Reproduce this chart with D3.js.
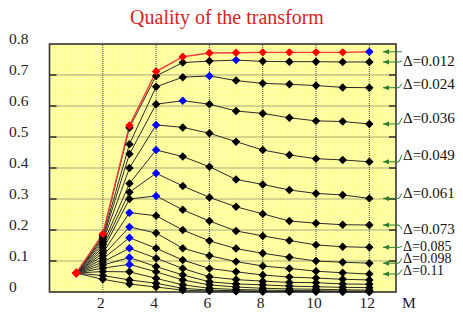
<!doctype html>
<html lang="en">
<head>
<meta charset="utf-8">
<title>Quality of the transform</title>
<script src="https://cdn.jsdelivr.net/npm/d3@7/dist/d3.min.js"></script>
<style>
  body { margin: 0; background: #fff; }
  svg text { font-family: "Liberation Serif", "DejaVu Serif", serif; }
</style>
</head>
<body>
<svg id="chart" width="463" height="315"></svg>
<script>
// M values shared by every curve
const mValues = [1, 2, 3, 4, 5, 6, 7, 8, 9, 10, 11, 12];

// one array per curve, top (red) to bottom
const curveRed = [0.061, 0.187, 0.537, 0.711, 0.759, 0.771, 0.772, 0.773, 0.773, 0.773, 0.773, 0.775];
const curve02 = [0.061, 0.183, 0.530, 0.697, 0.740, 0.745, 0.748, 0.744, 0.743, 0.743, 0.742, 0.742];
const curve03 = [0.061, 0.177, 0.477, 0.662, 0.693, 0.697, 0.682, 0.673, 0.670, 0.666, 0.660, 0.659];
const curve04 = [0.061, 0.170, 0.445, 0.606, 0.617, 0.606, 0.584, 0.576, 0.562, 0.552, 0.550, 0.542];
const curve05 = [0.061, 0.162, 0.400, 0.539, 0.531, 0.512, 0.485, 0.458, 0.442, 0.430, 0.426, 0.420];
const curve06 = [0.061, 0.153, 0.350, 0.458, 0.437, 0.404, 0.363, 0.347, 0.329, 0.318, 0.313, 0.302];
const curve07 = [0.061, 0.144, 0.322, 0.383, 0.342, 0.305, 0.275, 0.252, 0.229, 0.222, 0.217, 0.216];
const curve08 = [0.061, 0.135, 0.300, 0.310, 0.265, 0.229, 0.197, 0.181, 0.166, 0.152, 0.146, 0.144];
const curve09 = [0.061, 0.126, 0.256, 0.246, 0.200, 0.165, 0.140, 0.125, 0.112, 0.100, 0.096, 0.093];
const curve10 = [0.061, 0.117, 0.210, 0.190, 0.141, 0.117, 0.098, 0.084, 0.076, 0.067, 0.062, 0.058];
const curve11 = [0.061, 0.107, 0.175, 0.141, 0.103, 0.076, 0.065, 0.055, 0.048, 0.045, 0.041, 0.039];
const curve12 = [0.061, 0.097, 0.141, 0.109, 0.076, 0.049, 0.040, 0.035, 0.031, 0.030, 0.026, 0.025];
const curve13 = [0.061, 0.087, 0.111, 0.082, 0.055, 0.033, 0.026, 0.023, 0.019, 0.017, 0.015, 0.014];
const curve14 = [0.061, 0.077, 0.089, 0.065, 0.039, 0.023, 0.016, 0.012, 0.010, 0.009, 0.007, 0.006];
const curve15 = [0.061, 0.066, 0.065, 0.044, 0.023, 0.012, 0.008, 0.006, 0.005, 0.004, 0.003, 0.003];
const curve16 = [0.061, 0.053, 0.039, 0.028, 0.012, 0.006, 0.004, 0.003, 0.002, 0.002, 0.001, 0.001];
const curve17 = [0.061, 0.041, 0.026, 0.016, 0.006, 0.003, 0.002, 0.001, 0.001, 0.001, 0.001, 0.000];

const curves = [curveRed, curve02, curve03, curve04, curve05, curve06, curve07, curve08, curve09,
  curve10, curve11, curve12, curve13, curve14, curve15, curve16, curve17];

// labels for curves 2..10 (the red curve's arrow joins the first label)
const deltaLabels = ["0.012", "0.024", "0.036", "0.049", "0.061", "0.073", "0.085", "0.098", "0.11"];

const yTicks = [0, 0.1, 0.2, 0.3, 0.4, 0.5, 0.6, 0.7, 0.8];
const xTicks = [2, 4, 6, 8, 10, 12];

// label nudges (px) relative to the arrow they belong to
const labelShift = [-1, -4, -6, -7, -5, 4, -1, -5, -4.5];

const svg = d3.select("#chart");
const x = d3.scaleLinear().domain([0, 13]).range([49.5, 396]);
const y = d3.scaleLinear().domain([0, 0.8]).range([292, 44]);

const defs = svg.append("defs");
const pat = defs.append("pattern").attr("id", "dots")
  .attr("width", 3).attr("height", 3).attr("patternUnits", "userSpaceOnUse");
pat.append("rect").attr("width", 3).attr("height", 3).attr("fill", "#ffff98");
pat.append("rect").attr("width", 1).attr("height", 1).attr("fill", "#ffffe6");

svg.append("text")
  .attr("x", 227).attr("y", 24)
  .attr("text-anchor", "middle")
  .style("font-size", "20px")
  .style("fill", "#d61e1e")
  .text("Quality of the transform");

svg.append("rect")
  .attr("x", x(0)).attr("y", y(0.8))
  .attr("width", x(13) - x(0)).attr("height", y(0) - y(0.8))
  .attr("fill", "url(#dots)");

// grid
const grid = svg.append("g").attr("stroke", "#555").attr("stroke-width", 1.1).attr("stroke-dasharray", "1,1");
grid.selectAll(".h").data(yTicks.slice(1, -1)).enter().append("line")
  .attr("x1", x(0)).attr("x2", x(13))
  .attr("y1", d => y(d)).attr("y2", d => y(d));
grid.selectAll(".v").data(xTicks).enter().append("line")
  .attr("y1", y(0)).attr("y2", y(0.8))
  .attr("x1", d => x(d)).attr("x2", d => x(d));

// tick marks on both sides
const ticks = svg.append("g").attr("stroke", "#111").attr("stroke-width", 1.3);
ticks.selectAll(".l").data(yTicks.slice(1, -1)).enter().append("line")
  .attr("x1", x(0)).attr("x2", x(0) + 7)
  .attr("y1", d => y(d)).attr("y2", d => y(d));
ticks.selectAll(".r").data(yTicks.slice(1, -1)).enter().append("line")
  .attr("x1", x(13) - 7).attr("x2", x(13))
  .attr("y1", d => y(d)).attr("y2", d => y(d));

svg.append("rect")
  .attr("x", x(0)).attr("y", y(0.8))
  .attr("width", x(13) - x(0)).attr("height", y(0) - y(0.8))
  .attr("fill", "none").attr("stroke", "#333").attr("stroke-width", 1.6);

// axis labels
svg.selectAll(".ylab").data(yTicks).enter().append("text")
  .attr("x", 9).attr("y", d => y(d))
  .style("font-size", "15.5px").style("fill", "#222")
  .text(d => d === 0 ? "0" : d3.format(".1f")(d));

svg.selectAll(".xlab").data(xTicks).enter().append("text")
  .attr("x", d => x(d) - 2).attr("y", 308)
  .attr("text-anchor", "middle")
  .style("font-size", "15.5px").style("fill", "#222")
  .text(d => d);
svg.append("text").attr("x", 402).attr("y", 308)
  .style("font-size", "15.5px").style("fill", "#222").text("M");

// curves
const line = d3.line().x((d, i) => x(mValues[i])).y(d => y(d));
const drawOrder = d3.range(curves.length).reverse();

svg.append("g").selectAll("path").data(drawOrder).enter().append("path")
  .attr("d", i => line(curves[i]))
  .attr("fill", "none")
  .attr("stroke", i => i === 0 ? "#f23c3c" : "#2a2a2a")
  .attr("stroke-width", i => i === 0 ? 1.4 : 1);

const diamond = d3.symbol().type(d3.symbolSquare).size(36);
const markers = svg.append("g");
drawOrder.forEach(i => {
  const vals = curves[i];
  const peak = d3.maxIndex(vals);
  markers.append("g").selectAll("path").data(vals).enter().append("path")
    .attr("d", diamond)
    .attr("transform", (d, j) => `translate(${x(mValues[j])},${y(d)}) rotate(45)`)
    .attr("fill", (d, j) => {
      if (j === peak && peak >= 2) return "#0000ff";
      if (i === 0 || j === 0) return "#ff0000";
      return "#000";
    });
});
// the shared starting point is drawn red on top
markers.append("path").attr("d", diamond)
  .attr("transform", `translate(${x(mValues[0])},${y(curveRed[0])}) rotate(45)`)
  .attr("fill", "#ff0000");

// arrows and delta labels
const arrows = svg.append("g");
const tipX = 383, joinX = 399, textX = 403;
for (let k = 0; k < 10; k++) {
  const ay = y(curves[k][curves[k].length - 1]);
  const ly = k === 0 ? ay : ay + labelShift[k - 1];
  arrows.append("path")
    .attr("d", `M${tipX},${ay}L${joinX},${ay}L${textX - 1},${ly}`)
    .attr("fill", "none").attr("stroke", "#2f7d2f").attr("stroke-width", 1);
  arrows.append("path")
    .attr("d", `M${tipX},${ay}l6,-2.5l0,5z`)
    .attr("fill", "#2f7d2f");
  if (k > 0) {
    arrows.append("text")
      .attr("x", textX).attr("y", ly + 5)
      .style("font-size", k > 6 ? "14px" : "15px").style("fill", "#111")
      .text("\u0394=" + deltaLabels[k - 1]);
  }
}
</script>
</body>
</html>
